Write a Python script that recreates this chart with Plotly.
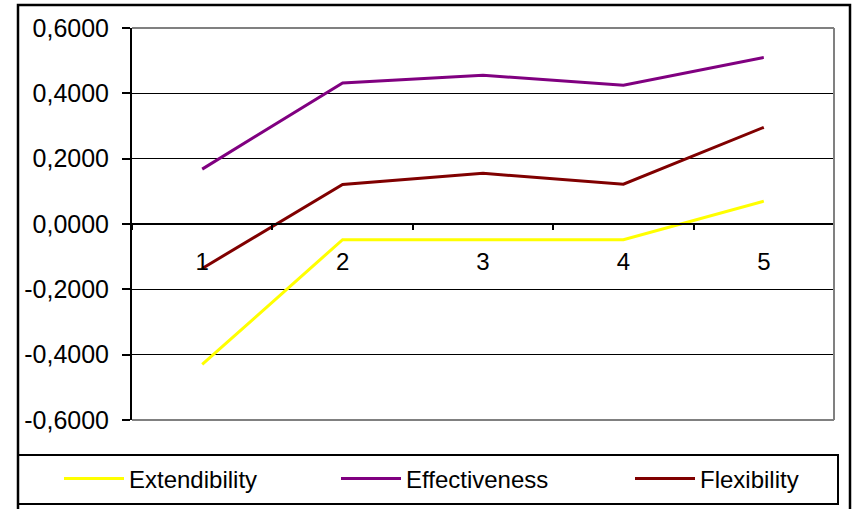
import plotly.graph_objects as go

categories = ["1", "2", "3", "4", "5"]
extendibility = [-0.430, -0.048, -0.048, -0.048, 0.070]
effectiveness = [0.168, 0.432, 0.455, 0.425, 0.510]
flexibility = [-0.136, 0.121, 0.155, 0.122, 0.296]
y_tick_vals = [-0.6, -0.4, -0.2, 0.0, 0.2, 0.4, 0.6]
y_tick_text = ["-0,6000", "-0,4000", "-0,2000", "0,0000", "0,2000", "0,4000", "0,6000"]

W, H = 854, 509
L, R, T, B = 132, 20, 28, 89
pw, ph = W - L - R, H - T - B

def px_x(p):
    return (p - L) / pw

def px_y(p):
    return (H - B - p) / ph

FONT = "Liberation Sans, Arial, sans-serif"

fig = go.Figure()
series = [
    ("Extendibility", extendibility, "#FFFF00", "legend"),
    ("Effectiveness", effectiveness, "#800080", "legend2"),
    ("Flexibility", flexibility, "#800000", "legend3"),
]
for name, vals, color, lg in series:
    fig.add_trace(go.Scatter(x=categories, y=vals, mode="lines", name=name,
                             line=dict(color=color, width=3), legend=lg))

leg_common = dict(orientation="h", font=dict(family=FONT, size=24, color="black"),
                  bgcolor="rgba(0,0,0,0)", borderwidth=0, yanchor="middle",
                  xanchor="left", itemwidth=60, xref="container", yref="container")
leg_y = 1 - 479 / H
fig.update_layout(
    legend=dict(x=59 / W, y=leg_y, **leg_common),
    legend2=dict(x=336 / W, y=leg_y, **leg_common),
    legend3=dict(x=630 / W, y=leg_y, **leg_common),
)

fig.update_layout(
    width=W, height=H,
    margin=dict(l=L, r=R, t=T, b=B, pad=0, autoexpand=False),
    paper_bgcolor="white", plot_bgcolor="white",
    font=dict(family=FONT, color="black"),
    xaxis=dict(type="category", range=[-0.5, 4.5], anchor="free", position=0.5,
               showline=True, linecolor="black", linewidth=1.5,
               ticks="outside", tickson="boundaries", ticklen=5, tickcolor="black",
               tickwidth=1.5, showgrid=False, zeroline=False,
               tickfont=dict(family=FONT, size=24, color="black"),
               ticklabelstandoff=16),
    yaxis=dict(range=[-0.6, 0.6], tickvals=y_tick_vals, ticktext=y_tick_text,
               showline=True, linecolor="black", linewidth=2,
               ticks="outside", ticklen=8, tickcolor="black", tickwidth=1.5,
               showgrid=True, gridcolor="black", gridwidth=1.2, zeroline=False,
               tickfont=dict(family=FONT, size=25, color="black"),
               ticklabelstandoff=8),
    showlegend=True,
)

shapes = [
    dict(type="line", xref="paper", yref="paper", x0=0, x1=1, y0=1, y1=1,
         line=dict(color="#808080", width=2), layer="above"),
    dict(type="line", xref="paper", yref="paper", x0=1, x1=1, y0=0, y1=1,
         line=dict(color="#808080", width=2), layer="above"),
    dict(type="line", xref="paper", yref="paper", x0=0, x1=1, y0=0, y1=0,
         line=dict(color="#808080", width=2), layer="above"),
    dict(type="rect", xref="paper", yref="paper", x0=px_x(18), x1=px_x(838),
         y0=px_y(504), y1=px_y(455), line=dict(color="black", width=2)),
    dict(type="rect", xref="paper", yref="paper", x0=px_x(18), x1=px_x(850),
         y0=px_y(540), y1=px_y(5), line=dict(color="black", width=2.5)),
]
fig.update_layout(shapes=shapes)

fig.write_html("out.html", config={"displayModeBar": False},
               post_script="document.body.style.margin='0';")
